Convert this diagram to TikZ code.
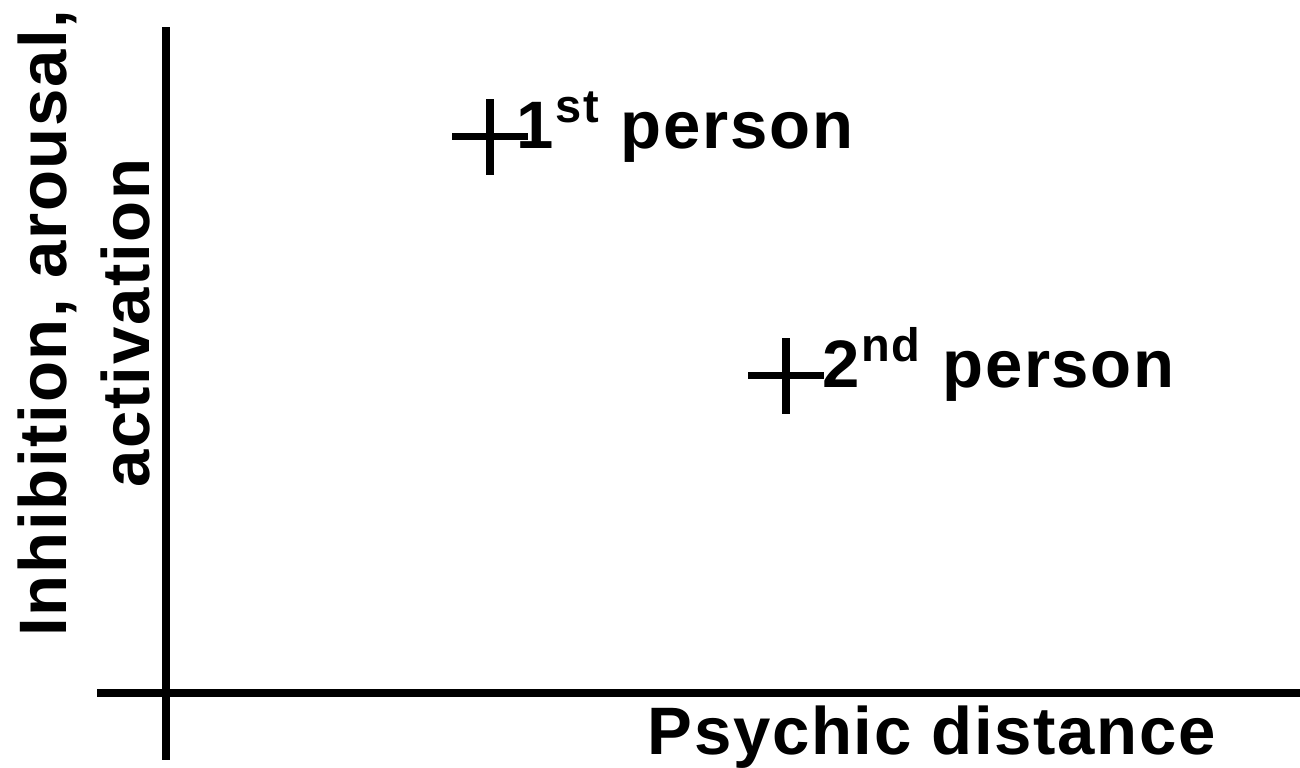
\documentclass[tikz,border=0pt]{standalone}
\usepackage{fontspec}
\setmainfont{Liberation Sans}[LetterSpace=2.5]
\usepackage{tikz}

\newcommand{\ordsup}[1]{\kern0.5pt\textsuperscript{#1}}

\begin{document}
\begin{tikzpicture}[x=0.1mm,y=0.1mm,
  axis/.style={line width=2.3pt},
  cross/.style={line width=2pt},
  lbl/.style={inner sep=0pt,font=\fontsize{19.1}{23.6}\selectfont\bfseries}]
  \useasboundingbox (0,0) rectangle (1300,768);
  % axes
  \coordinate (ytop) at (166,741);
  \coordinate (ybot) at (166,8);
  \coordinate (xleft) at (97,75);
  \coordinate (xright) at (1300,75);
  \draw[axis] (ybot)--(ytop);
  \draw[axis] (xleft)--(xright);
  % the two persons
  \coordinate (p1) at (490,631);
  \coordinate (p2) at (786,392);
  \foreach \p in {p1,p2}
    \draw[cross] (\p) ++(-38,0) -- ++(76,0) (\p) ++(0,-38) -- ++(0,76);
  \node[lbl,anchor=base west] (first) at (516,619) {1\ordsup{st} person};
  \node[lbl,anchor=base west] (second) at (822,380) {2\ordsup{nd} person};
  % axis labels
  \node[lbl,anchor=base west] (xlabel) at (647,13) {Psychic distance};
  \node[lbl,rotate=90,align=center] (ylabel) at (84,445) {Inhibition, arousal,\\activation};
\end{tikzpicture}
\end{document}
